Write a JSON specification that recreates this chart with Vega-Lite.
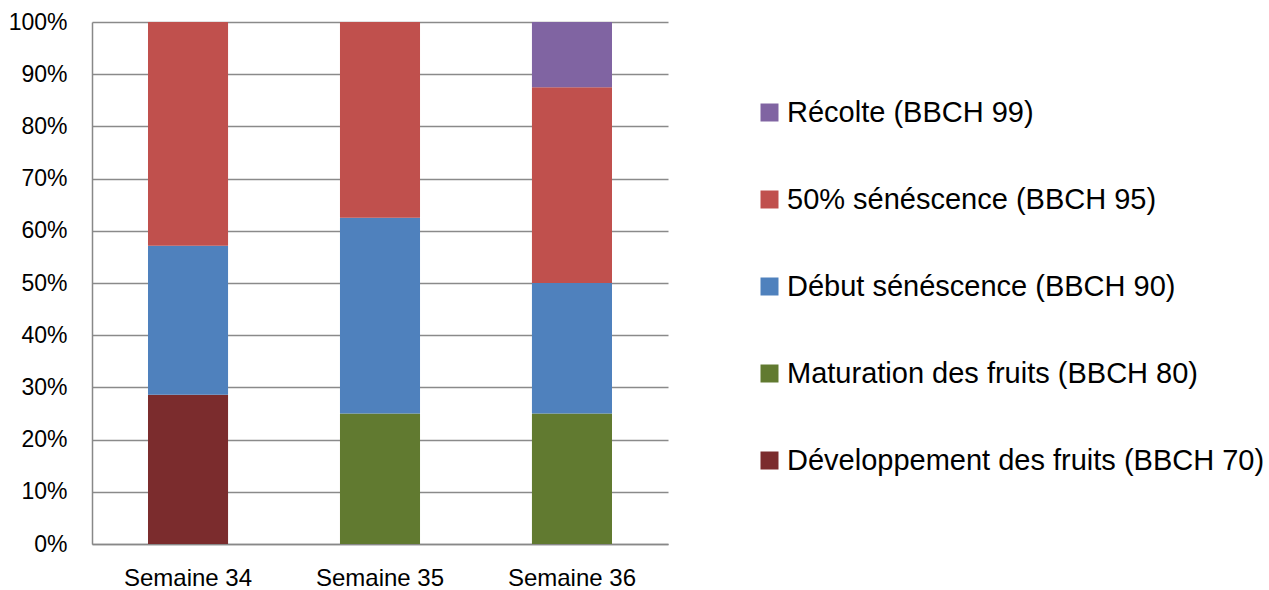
{
  "$schema": "https://vega.github.io/schema/vega-lite/v6.json",
  "width": 576,
  "height": 522,
  "autosize": "none",
  "padding": {"left": 92, "top": 22, "right": 601, "bottom": 46},
  "background": "white",
  "data": {
    "values": [
      {"semaine": "Semaine 34", "stade": "Développement des fruits (BBCH 70)", "rang": 1, "n": 2},
      {"semaine": "Semaine 34", "stade": "Début sénéscence (BBCH 90)", "rang": 3, "n": 2},
      {"semaine": "Semaine 34", "stade": "50% sénéscence (BBCH 95)", "rang": 4, "n": 3},
      {"semaine": "Semaine 35", "stade": "Maturation des fruits (BBCH 80)", "rang": 2, "n": 2},
      {"semaine": "Semaine 35", "stade": "Début sénéscence (BBCH 90)", "rang": 3, "n": 3},
      {"semaine": "Semaine 35", "stade": "50% sénéscence (BBCH 95)", "rang": 4, "n": 3},
      {"semaine": "Semaine 36", "stade": "Maturation des fruits (BBCH 80)", "rang": 2, "n": 2},
      {"semaine": "Semaine 36", "stade": "Début sénéscence (BBCH 90)", "rang": 3, "n": 2},
      {"semaine": "Semaine 36", "stade": "50% sénéscence (BBCH 95)", "rang": 4, "n": 3},
      {"semaine": "Semaine 36", "stade": "Récolte (BBCH 99)", "rang": 5, "n": 1}
    ]
  },
  "config": {
    "view": {"stroke": null},
    "font": "Liberation Sans"
  },
  "mark": {"type": "bar"},
  "encoding": {
    "x": {
      "field": "semaine",
      "type": "nominal",
      "title": null,
      "scale": {"paddingInner": 0.583, "paddingOuter": 0.2917},
      "axis": {
        "labelAngle": 0,
        "labelFontSize": 24,
        "labelColor": "#000000",
        "labelFont": "Liberation Sans",
        "labelPadding": 22,
        "ticks": false,
        "domainColor": "#888888",
        "domainWidth": 1.5,
        "grid": false
      }
    },
    "y": {
      "field": "n",
      "type": "quantitative",
      "stack": "normalize",
      "title": null,
      "scale": {"domain": [0, 1], "nice": false},
      "axis": {
        "values": [0, 0.1, 0.2, 0.3, 0.4, 0.5, 0.6, 0.7, 0.8, 0.9, 1],
        "format": ".0%",
        "labelFontSize": 23,
        "labelColor": "#000000",
        "labelFont": "Liberation Sans",
        "labelPadding": 25,
        "ticks": false,
        "domainColor": "#888888",
        "domainWidth": 1.5,
        "grid": true,
        "gridColor": "#8a8a8a",
        "gridWidth": 1.3
      }
    },
    "color": {
      "field": "stade",
      "type": "nominal",
      "title": null,
      "scale": {
        "domain": [
          "Récolte (BBCH 99)",
          "50% sénéscence (BBCH 95)",
          "Début sénéscence (BBCH 90)",
          "Maturation des fruits (BBCH 80)",
          "Développement des fruits (BBCH 70)"
        ],
        "range": ["#8064A2", "#C0504D", "#4F81BD", "#617A30", "#7B2C2D"]
      },
      "legend": {
        "orient": "none",
        "legendX": 663,
        "legendY": 76,
        "symbolType": "square",
        "symbolSize": 324,
        "symbolStrokeWidth": 0,
        "symbolOpacity": 1,
        "labelFontSize": 29,
        "labelFont": "Liberation Sans",
        "labelColor": "#000000",
        "labelLimit": 600,
        "labelOffset": 3,
        "rowPadding": 57,
        "padding": 0
      }
    },
    "order": {"field": "rang", "type": "quantitative", "sort": "ascending"}
  }
}
